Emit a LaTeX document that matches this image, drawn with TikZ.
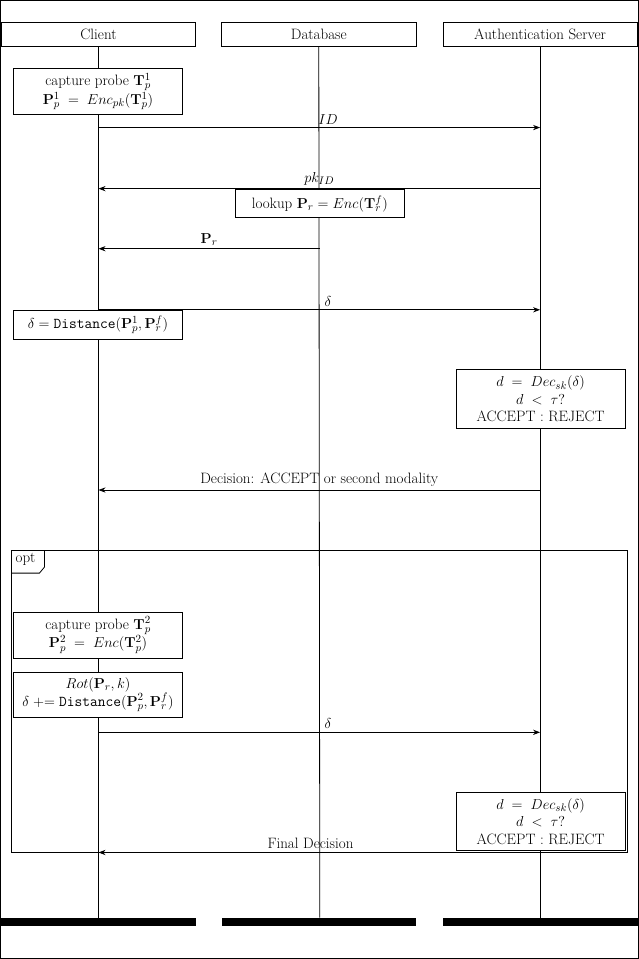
\documentclass[tikz,border=0pt]{standalone}
\usetikzlibrary{arrows.meta}
\begin{document}
\begin{tikzpicture}[x=1pt,y=-1pt,
  every node/.style={font=\fontsize{15}{17.5}\selectfont},
  hdr/.style={draw,thick,minimum width=194pt,minimum height=24pt,inner sep=0pt},
  act/.style={draw,thick,fill=white,align=center,inner sep=2pt},
  life/.style={line width=0.8pt},
  msg/.style={thick,-{Stealth[length=7pt]}},
  lbl/.style={above,inner sep=3pt}]
\draw[thick] (1,1) rectangle (638,958);
\node[hdr] (c) at (99,35) {Client};
\node[hdr] (d) at (319,35) {Database};
\node[hdr] (s) at (540,35) {Authentication Server};
\coordinate (ce) at (99,917); \coordinate (de) at (320,917); \coordinate (se) at (540,917);
\draw[life] (c.south) -- (ce);
\draw[life] (d.south) -- (de);
\draw[life] (s.south) -- (se);
\fill (2,917) rectangle (196,925);
\fill (222,917) rectangle (416,925);
\fill (443,917) rectangle (638,925);
% opt frame
\draw[thick] (12,550) rectangle (627,852);
\draw[thick] (12,573) -- (40,573) -- (45,567) -- (45,550);
\node[anchor=north west,inner sep=2pt] (opt) at (14,551) {opt};
\node[act,minimum width=169pt,minimum height=46pt] (b1) at (98.5,92) {capture probe $\mathbf{T}_p^1$\\$\mathbf{P}_p^1 \;=\; Enc_{pk}(\mathbf{T}_p^1)$};
\coordinate (c1) at (99,128); \coordinate (s1) at (540,128);
\draw[msg] (c1) -- node[lbl,pos=0.52]{$ID$} (s1);
\coordinate (c2) at (99,189); \coordinate (s2) at (540,189);
\draw[msg] (s2) -- node[lbl,pos=0.5]{$pk_{ID}$} (c2);
\node[act,minimum width=168pt,minimum height=28pt] (lk) at (320,204) {lookup $\mathbf{P}_r = Enc(\mathbf{T}_r^f)$};
\coordinate (c3) at (99,249); \coordinate (d3) at (320,249);
\draw[msg] (d3) -- node[lbl]{$\mathbf{P}_r$} (c3);
\coordinate (c4) at (99,310); \coordinate (s4) at (540,310);
\draw[msg] (c4) -- node[lbl,pos=0.52]{$\delta$} (s4);
\node[act,minimum width=169pt,minimum height=29pt] (b2) at (98.5,325) {$\delta = \texttt{Distance}(\mathbf{P}_p^1,\mathbf{P}_r^f)$};
\node[act,minimum width=169pt,minimum height=58pt] (dc1) at (540.5,399) {$d \;=\; Dec_{sk}(\delta)$\\$d \;<\; \tau?$\\ACCEPT : REJECT};
\coordinate (c5) at (99,490); \coordinate (s5) at (540,490);
\draw[msg] (s5) -- node[lbl,pos=0.5]{Decision: ACCEPT or second modality} (c5);
\node[act,minimum width=169pt,minimum height=46pt] (b3) at (98.5,635) {capture probe $\mathbf{T}_p^2$\\$\mathbf{P}_p^2 \;=\; Enc(\mathbf{T}_p^2)$};
\node[act,minimum width=169pt,minimum height=45pt] (b4) at (98.5,694.5) {$Rot(\mathbf{P}_r,k)$\\$\delta \mathrel{+}= \texttt{Distance}(\mathbf{P}_p^2,\mathbf{P}_r^f)$};
\coordinate (c6) at (99,732); \coordinate (s6) at (540,732);
\draw[msg] (c6) -- node[lbl,pos=0.52]{$\delta$} (s6);
\coordinate (c7) at (99,852); \coordinate (s7) at (540,852);
\draw[msg] (s7) -- node[lbl,pos=0.52]{Final Decision} (c7);
\node[act,minimum width=169pt,minimum height=58pt] (dc2) at (540.5,821) {$d \;=\; Dec_{sk}(\delta)$\\$d \;<\; \tau?$\\ACCEPT : REJECT};
\end{tikzpicture}
\end{document}
